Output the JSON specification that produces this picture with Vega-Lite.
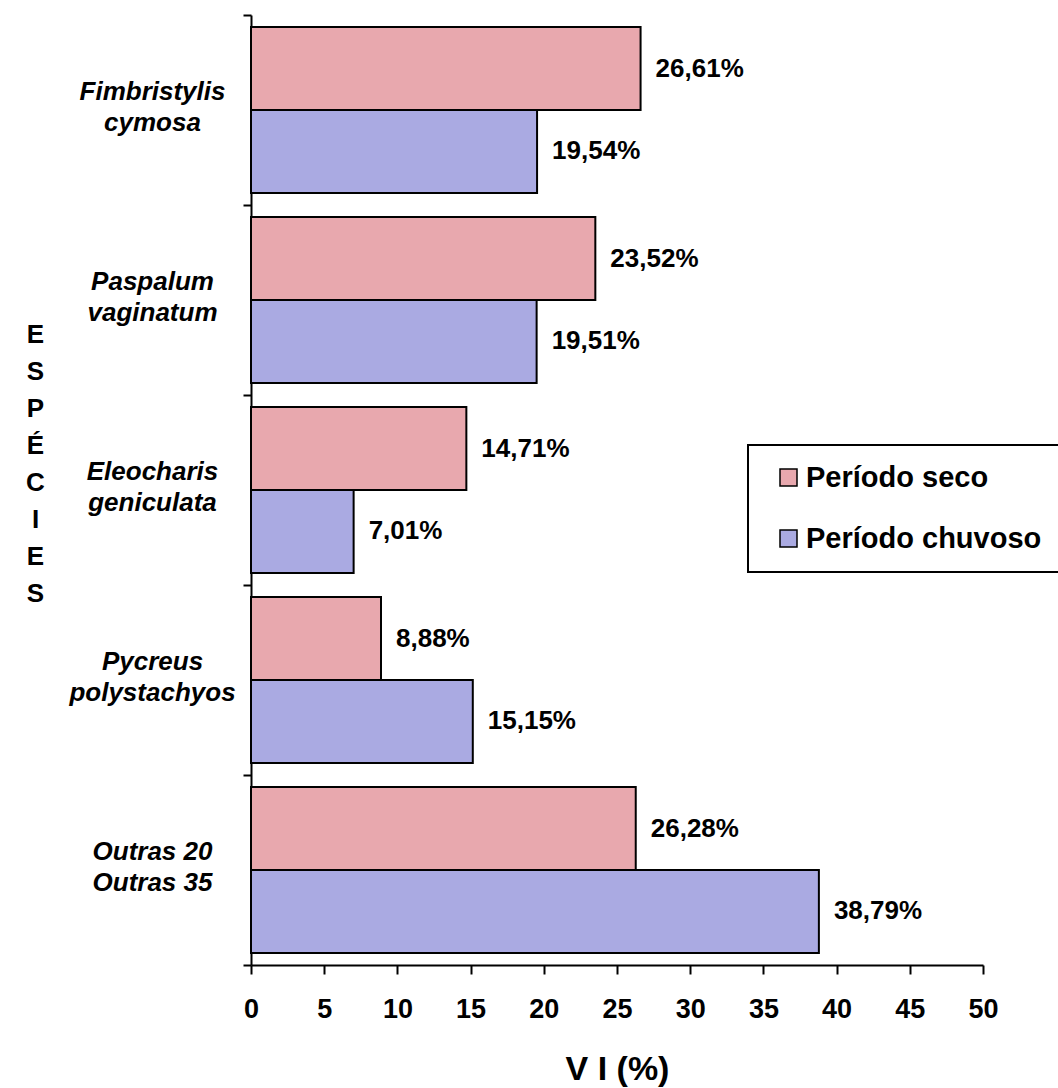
{
  "$schema": "https://vega.github.io/schema/vega-lite/v6.json",
  "width": 732,
  "height": 950,
  "autosize": {"type": "none"},
  "padding": {"left": 251, "top": 15, "right": 75, "bottom": 123},
  "background": "white",
  "config": {
    "view": {"stroke": null},
    "font": "Liberation Sans",
    "legend": {"strokeWidth": 2},
    "locale": {
      "number": {"decimal": ",", "thousands": ".", "grouping": [3], "currency": ["", "%"]}
    }
  },
  "data": {
    "values": [
      {"especie": "Fimbristylis cymosa", "periodo": "Período seco", "vi": 26.61},
      {"especie": "Fimbristylis cymosa", "periodo": "Período chuvoso", "vi": 19.54},
      {"especie": "Paspalum vaginatum", "periodo": "Período seco", "vi": 23.52},
      {"especie": "Paspalum vaginatum", "periodo": "Período chuvoso", "vi": 19.51},
      {"especie": "Eleocharis geniculata", "periodo": "Período seco", "vi": 14.71},
      {"especie": "Eleocharis geniculata", "periodo": "Período chuvoso", "vi": 7.01},
      {"especie": "Pycreus polystachyos", "periodo": "Período seco", "vi": 8.88},
      {"especie": "Pycreus polystachyos", "periodo": "Período chuvoso", "vi": 15.15},
      {"especie": "Outras", "periodo": "Período seco", "vi": 26.28},
      {"especie": "Outras", "periodo": "Período chuvoso", "vi": 38.79}
    ]
  },
  "encoding": {
    "y": {
      "field": "especie",
      "type": "nominal",
      "sort": ["Fimbristylis cymosa", "Paspalum vaginatum", "Eleocharis geniculata", "Pycreus polystachyos", "Outras"],
      "scale": {"paddingInner": 0, "paddingOuter": 0},
      "axis": {
        "title": ["E", "S", "P", "É", "C", "I", "E", "S"],
        "titleAngle": 0,
        "titleFontSize": 26,
        "titleFontWeight": "bold",
        "titleColor": "black",
        "titleLineHeight": 37,
        "titleAlign": "center",
        "titleBaseline": "top",
        "titleX": -216,
        "titleY": 306,
        "labelExpr": "datum.value == null ? '' : datum.value == 'Outras' ? ['Outras 20', 'Outras 35'] : split(datum.value, ' ')",
        "labelFontSize": 26,
        "labelFontWeight": "bold",
        "labelFontStyle": "italic",
        "labelColor": "black",
        "labelAlign": "center",
        "labelBaseline": "middle",
        "labelLineHeight": 31,
        "labelOffset": -19,
        "labelPadding": 91,
        "labelLimit": 300,
        "tickBand": "extent",
        "tickSize": 8,
        "tickWidth": 2,
        "tickColor": "black",
        "domainColor": "black",
        "domainWidth": 2
      }
    },
    "yOffset": {
      "field": "periodo",
      "type": "nominal",
      "sort": ["Período seco", "Período chuvoso"],
      "scale": {"paddingInner": 0, "paddingOuter": 0.145}
    }
  },
  "layer": [
    {
      "mark": {"type": "bar", "stroke": "black", "strokeWidth": 2},
      "encoding": {
        "x": {
          "field": "vi",
          "type": "quantitative",
          "scale": {"domain": [0, 50], "nice": false},
          "axis": {
            "title": "V I (%)",
            "titleFontSize": 34,
            "titleFontWeight": "bold",
            "titleColor": "black",
            "titleBaseline": "alphabetic",
            "titleY": 114,
            "values": [0, 5, 10, 15, 20, 25, 30, 35, 40, 45, 50],
            "format": "d",
            "labelFontSize": 27,
            "labelFontWeight": "bold",
            "labelColor": "black",
            "labelPadding": 22,
            "labelFlush": false,
            "tickSize": 9,
            "tickWidth": 2,
            "tickColor": "black",
            "domainColor": "black",
            "domainWidth": 2,
            "grid": false
          }
        },
        "color": {
          "field": "periodo",
          "type": "nominal",
          "sort": ["Período seco", "Período chuvoso"],
          "scale": {"domain": ["Período seco", "Período chuvoso"], "range": ["#e8a8ae", "#aaaae2"]},
          "legend": {
            "title": null,
            "orient": "none",
            "legendX": 497,
            "legendY": 430,
            "padding": 18,
            "strokeColor": "black",
            "fillColor": "white",
            "symbolType": "square",
            "symbolSize": 289,
            "symbolOffset": 8,
            "symbolStrokeColor": "black",
            "symbolStrokeWidth": 1.5,
            "symbolOpacity": 1,
            "labelFontSize": 29,
            "labelFontWeight": "bold",
            "labelColor": "black",
            "labelOffset": 3,
            "labelLimit": 400,
            "rowPadding": 31
          }
        }
      }
    },
    {
      "mark": {"type": "text", "align": "left", "baseline": "middle", "dx": 15, "fontSize": 26, "fontWeight": "bold", "color": "black"},
      "encoding": {
        "x": {"field": "vi", "type": "quantitative"},
        "text": {"field": "vi", "type": "quantitative", "format": "$.2f"}
      }
    }
  ]
}
